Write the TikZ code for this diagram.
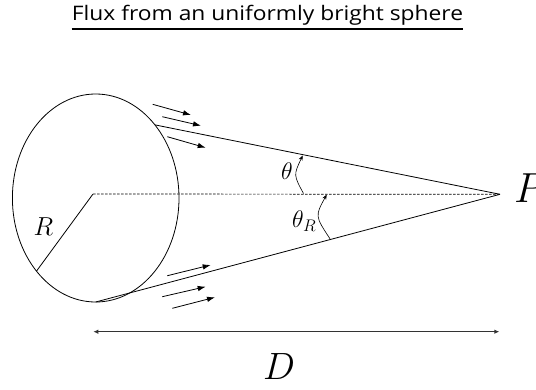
\documentclass[tikz,border=0pt]{standalone}
\usepackage{fontspec}
\newfontfamily\titlefont{Open Sans}
\usetikzlibrary{arrows.meta,shapes.geometric}
\DeclareFontShape{OML}{cmm}{m}{it}{<-7.5> cmmi7 <7.5-8.5> cmmi8 <8.5-9.5> cmmi9 <9.5-11> cmmi10 <11-> cmmi12}{}
\begin{document}
\begin{tikzpicture}[x=1pt,y=-1pt,
  sphere/.style={draw,ellipse,line width=0.8pt,minimum width=166.6pt,minimum height=208pt,inner sep=0pt,outer sep=0pt},
  ray/.style={line width=0.8pt},
  flux/.style={line width=0.8pt,-{Latex[length=8pt,width=5.5pt]}},
  anglearc/.style={line width=0.6pt,-{Stealth[length=5pt,width=4pt]}},
  dist/.style={line width=1.2pt,draw=black!80,{Latex[length=5pt,width=4.5pt]}-{Latex[length=5pt,width=4.5pt]}},
  lbl/.style={inner sep=0pt,anchor=base},
]
\useasboundingbox (0,0) rectangle (536,389);
% title
\node[lbl,font=\titlefont\fontsize{20}{20}\selectfont] (title) at (267.5,20.7) {\scalebox{1.14}[1]{Flux from an uniformly bright sphere}};
\draw[line width=1.1pt] ([yshift=-8.3pt]title.base west) -- ([yshift=-8.3pt]title.base east);
% sphere
\node[sphere] (S) at (95.7,198) {};
\coordinate (O) at (93,194);
\coordinate (P) at (500,194.3);
\draw[ray] (S.51.5) -- (P);
\draw[ray] (S.south) -- (P);
\draw[line width=0.7pt,dash pattern=on 2.5pt off 1.5pt] (O) -- (P);
\draw[ray] (O) -- (S.231.3);
% flux arrows
\foreach \i/\ax/\ay/\bx/\by in {1/152.7/104.3/191/115, 2/162.3/116.7/201/125.7, 3/167.3/136.7/205.7/147.7, 4/167.3/275.7/210.7/265, 5/162.3/296.7/205.7/286.7, 6/172.3/308.3/215/297.3}{
  \coordinate (f\i a) at (\ax,\ay);
  \coordinate (f\i b) at (\bx,\by);
  \draw[flux] (f\i a) -- (f\i b);
}
% angle arcs
\coordinate (t1) at (303.5,193.5);
\coordinate (t2) at (302.7,155.5);
\draw[anglearc] (t1) .. controls (293.5,175) .. (t2);
\coordinate (r1) at (330,238.8);
\coordinate (r2) at (326.7,194.6);
\draw[anglearc] (r1) .. controls (315,216) .. (r2);
% labels
\node[lbl,font=\fontsize{26}{30}\selectfont] (Rlab) at (43.3,235) {$R$};
\node[lbl,font=\fontsize{24}{30}\selectfont] (thlab) at (287,179.3) {$\theta$};
\node[lbl,anchor=base west,font=\fontsize{24}{30}\selectfont] (thRlab) at (292,227.3) {$\theta_R$};
\node[lbl,anchor=base west,font=\fontsize{42}{46}\selectfont] (Plab) at (514,202.7) {$P$};
% distance
\coordinate (Dl) at (93.3,331.7);
\coordinate (Dr) at (499.3,331.7);
\draw[dist] (Dl) -- (Dr);
\node[lbl,font=\fontsize{38}{42}\selectfont] (Dlab) at (279,379.3) {$D$};
\end{tikzpicture}
\end{document}
